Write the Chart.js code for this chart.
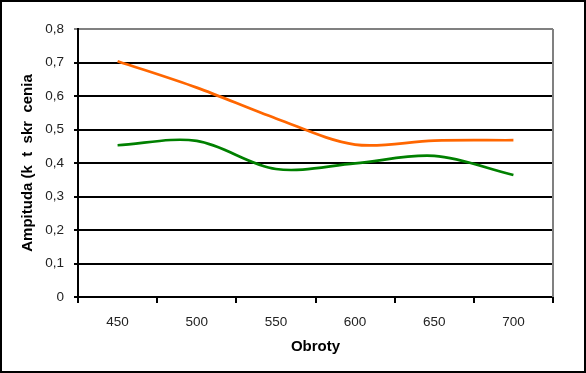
<!DOCTYPE html>
<html><head><meta charset="utf-8">
<script src="https://cdn.jsdelivr.net/npm/chart.js@4/dist/chart.umd.min.js"></script>
<style>html,body{margin:0;padding:0;background:#fff}#w{width:586px;height:373px;position:relative}</style>
</head><body><div id="w"><canvas id="c" width="586" height="373"></canvas></div>
<script>
const categories = ['450','500','550','600','650','700'];
const seriesOrange = [0.704, 0.625, 0.533, 0.455, 0.467, 0.468];
const seriesGreen = [0.453, 0.466, 0.382, 0.399, 0.421, 0.364];
const yTitle = 'Ampituda (k  t  skr  cenia';
const xTitle = 'Obroty';

const frame = {
  id: 'frame',
  beforeDraw(chart) {
    const ctx = chart.ctx;
    ctx.save();
    ctx.fillStyle = '#fff';
    ctx.fillRect(0, 0, chart.width, chart.height);
    ctx.strokeStyle = '#000';
    ctx.lineWidth = 2;
    ctx.strokeRect(1, 1, chart.width - 2, chart.height - 2);
    ctx.restore();
  },
  beforeDatasetsDraw(chart) {
    const a = chart.chartArea, ctx = chart.ctx;
    ctx.save();
    ctx.strokeStyle = '#808080';
    ctx.lineWidth = 2;
    ctx.beginPath();
    ctx.moveTo(a.right, a.top);
    ctx.lineTo(a.right, a.bottom);
    ctx.stroke();
    ctx.restore();
  }
};

new Chart(document.getElementById('c'), {
  type: 'line',
  data: {
    labels: categories,
    datasets: [
      { data: seriesOrange, borderColor: '#FF6600', borderWidth: 2.7, pointRadius: 0, tension: 0.33, fill: false },
      { data: seriesGreen, borderColor: '#008000', borderWidth: 2.7, pointRadius: 0, tension: 0.33, fill: false }
    ]
  },
  options: {
    responsive: false,
    animation: false,
    layout: { padding: { top: 29, right: 33, bottom: 0, left: 0 } },
    plugins: { legend: { display: false }, tooltip: { enabled: false } },
    scales: {
      x: {
        type: 'category',
        offset: true,
        grid: { offset: true, drawOnChartArea: false, color: '#000', lineWidth: 2, tickLength: 6 },
        border: { color: '#000', width: 2 },
        ticks: { color: '#222', font: { family: 'Liberation Sans', size: 13.5 }, padding: 11, maxRotation: 0 },
        title: { display: true, text: xTitle, color: '#000', font: { family: 'Liberation Sans', size: 15, weight: 'bold' }, padding: { top: 0, bottom: 17 } },
        afterFit(s) { s.height = 76; }
      },
      y: {
        min: 0, max: 0.8,
        grid: { color: (c) => (c.tick && c.tick.value >= 0.79 ? '#808080' : '#000'), lineWidth: 2, tickLength: 4 },
        border: { color: '#000', width: 2 },
        ticks: { stepSize: 0.1, color: '#222', font: { family: 'Liberation Sans', size: 13.5 }, padding: 10,
          callback: (v) => (Math.round(v * 10) / 10).toString().replace('.', ',') },
        title: { display: true, text: yTitle, color: '#000', font: { family: 'Liberation Sans', size: 15, weight: 'bold' }, padding: { top: 19, bottom: 0 } },
        afterFit(s) { s.width = 78; }
      }
    }
  },
  plugins: [frame]
});
</script></body></html>
